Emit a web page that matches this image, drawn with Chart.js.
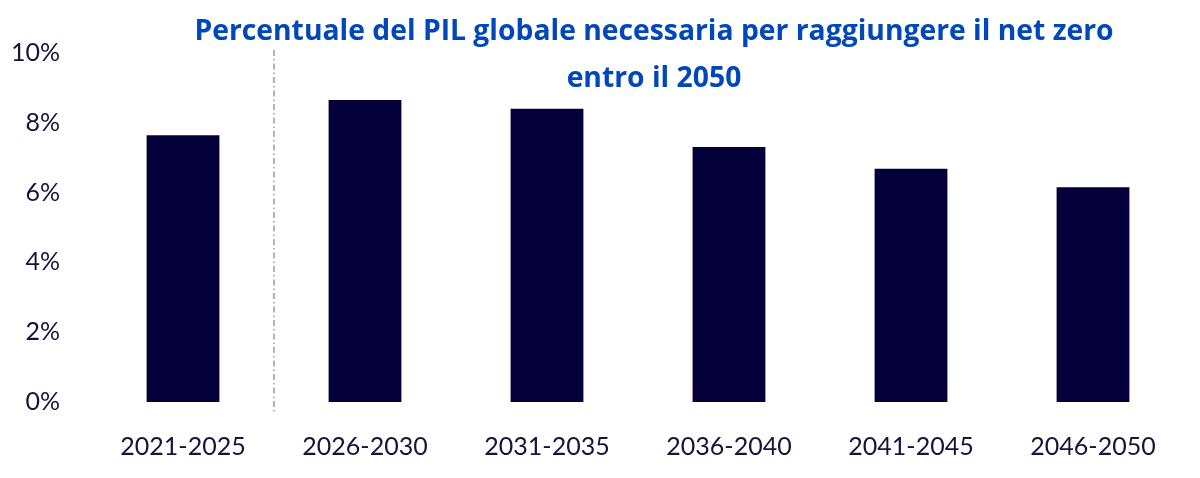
<!DOCTYPE html>
<html>
<head>
<meta charset="utf-8">
<script src="https://cdn.jsdelivr.net/npm/chart.js@4"></script>
<style>
  html, body { margin: 0; padding: 0; background: #fff; }
  #wrap { position: relative; width: 1200px; height: 478px; }
  #chartTitle {
    position: absolute; left: 0; top: 6px; width: 1308px;
    text-align: center; font-family: "Open Sans", sans-serif; font-weight: bold;
    font-size: 28.3px; line-height: 47px; color: #0047bb; pointer-events: none;
  }
</style>
</head>
<body>
<div id="wrap">
  <canvas id="chart" width="1200" height="478"></canvas>
  <div id="chartTitle">Percentuale del PIL globale necessaria per raggiungere il net zero<br>entro il 2050</div>
</div>
<script>
const periods = ["2021-2025", "2026-2030", "2031-2035", "2036-2040", "2041-2045", "2046-2050"];
const gdpShare = [7.64, 8.65, 8.4, 7.31, 6.68, 6.15];
const yTicks = [0, 2, 4, 6, 8, 10];

const navy = '#05003a';
const labelColor = '#14143c';

// dash-dot separator between the first period and the rest
const separator = {
  id: 'separator',
  afterDatasetsDraw(chart) {
    const x = chart.scales.x;
    const y = chart.scales.y;
    const px = (x.getPixelForValue(0) + x.getPixelForValue(1)) / 2;
    const ctx = chart.ctx;
    ctx.save();
    ctx.strokeStyle = '#7d838c';
    ctx.lineWidth = 1.2;
    ctx.setLineDash([6, 3, 1.5, 3]);
    ctx.beginPath();
    ctx.moveTo(px, y.getPixelForValue(10) - 3);
    ctx.lineTo(px, y.getPixelForValue(0) + 10);
    ctx.stroke();
    ctx.restore();
  }
};

new Chart(document.getElementById('chart').getContext('2d'), {
  type: 'bar',
  data: {
    labels: periods,
    datasets: [{
      data: gdpShare,
      backgroundColor: navy,
      barPercentage: 0.4,
      categoryPercentage: 1
    }]
  },
  options: {
    responsive: false,
    animation: false,
    layout: { padding: { top: 53, right: 16, bottom: 0, left: 0 } },
    plugins: { legend: { display: false }, tooltip: { enabled: false } },
    scales: {
      x: {
        grid: { display: false, drawTicks: false },
        border: { display: false },
        ticks: { color: labelColor, font: { family: 'Lato', size: 25 }, padding: 30 },
        afterFit(scale) { scale.height = 76; }
      },
      y: {
        min: 0,
        max: 10,
        afterBuildTicks(scale) { scale.ticks = yTicks.map(v => ({ value: v })); },
        grid: { display: false, drawTicks: false },
        border: { display: false },
        ticks: {
          color: labelColor,
          font: { family: 'Lato', size: 25 },
          padding: 32,
          callback: v => v + '%'
        },
        afterFit(scale) { scale.width = 92; }
      }
    }
  },
  plugins: [separator]
});
</script>
</body>
</html>
